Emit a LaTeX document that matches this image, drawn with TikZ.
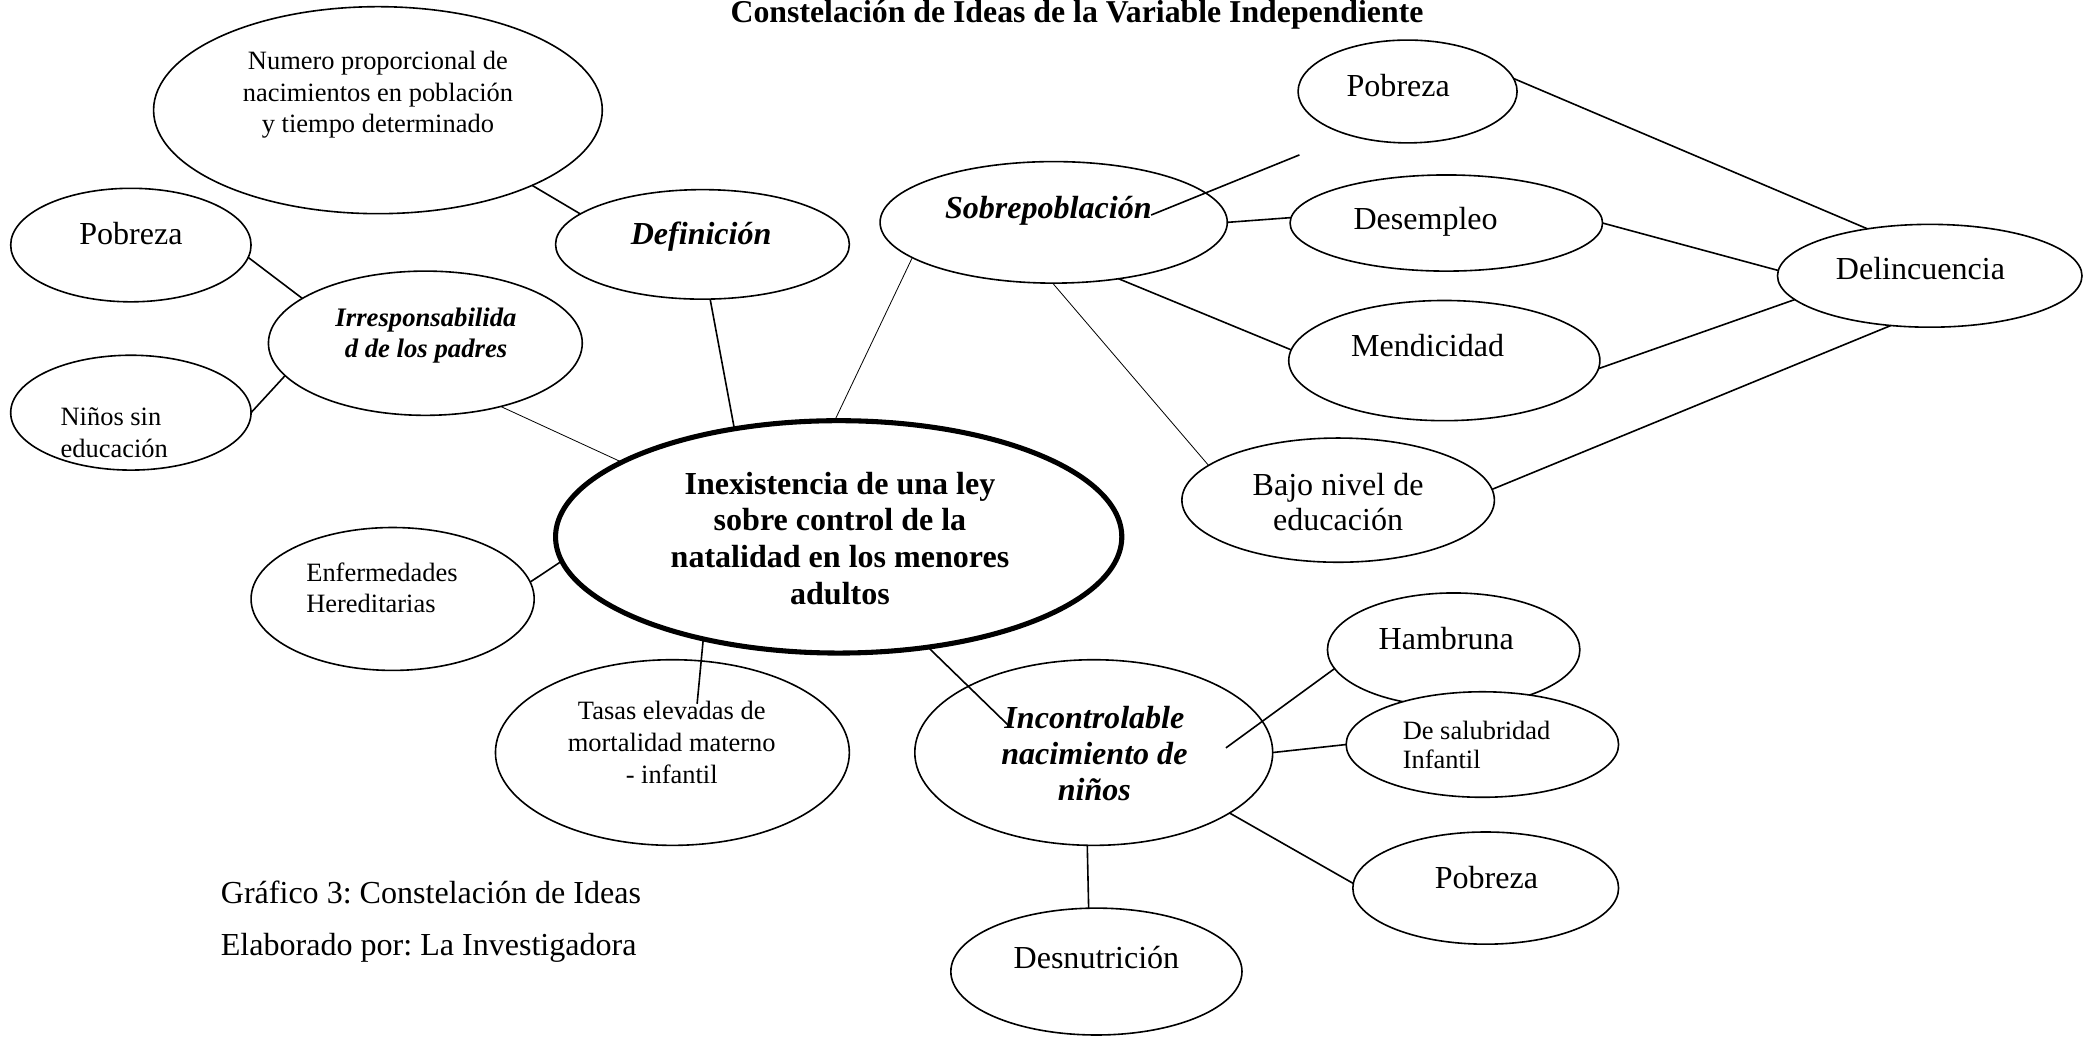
\documentclass[tikz,border=0pt]{standalone}
\usepackage{fontspec}
\setmainfont{Liberation Serif}
\usetikzlibrary{shapes.geometric}
\frenchspacing
\begin{document}
\begin{tikzpicture}[x=0.5pt,y=-0.5pt,
  ell/.style={ellipse, draw, fill=white, line width=0.6pt, inner sep=0pt, outer sep=0pt},
  bigtxt/.style={font=\fontsize{12}{13.6}\selectfont, inner sep=0pt, align=center},
  smltxt/.style={font=\fontsize{9.9}{11.7}\selectfont, inner sep=0pt, align=center},
  link/.style={line width=0.6pt},
  faint/.style={line width=0.3pt}]
\useasboundingbox (0,0) rectangle (1568,777);
% title
\node[font=\bfseries\fontsize{11.9}{14}\selectfont, anchor=base, inner sep=0pt] (title) at (806.5,17) {Constelación de Ideas de la Variable Independiente};
% ellipses
\node[ell, minimum width=168pt, minimum height=77.5pt] (num) at (283,82.5) {};
\node[ell, minimum width=90pt, minimum height=42.5pt] (pobL) at (98,183.5) {};
\node[ell, minimum width=110pt, minimum height=41pt] (def) at (526,183) {};
\node[ell, minimum width=117.5pt, minimum height=54pt] (irr) at (318.5,257) {};
\node[ell, minimum width=90pt, minimum height=43pt] (nin) at (98,309) {};
\node[ell, minimum width=106pt, minimum height=53.5pt] (enf) at (294,448.5) {};
\node[ell, line width=1.9pt, minimum width=212pt, minimum height=87pt] (cen) at (628,402) {};
\node[ell, minimum width=132.5pt, minimum height=69.5pt] (tas) at (503.5,563.5) {};
\node[ell, minimum width=134pt, minimum height=69.5pt] (inc) at (819,563.5) {};
\node[ell, minimum width=94.5pt, minimum height=42.5pt] (ham) at (1088.5,486.5) {};
\node[ell, minimum width=102pt, minimum height=39.5pt] (sal) at (1110,557.5) {};
\node[ell, minimum width=99.5pt, minimum height=42pt] (pobB) at (1112.5,665) {};
\node[ell, minimum width=109pt, minimum height=47.5pt] (des) at (821,727.5) {};
\node[ell, minimum width=117pt, minimum height=46.5pt] (bajo) at (1002,374.5) {};
\node[ell, minimum width=130pt, minimum height=45.5pt] (sob) at (789,166.5) {};
\node[ell, minimum width=82pt, minimum height=38.5pt] (pobT) at (1054,68.5) {};
\node[ell, minimum width=117pt, minimum height=36pt] (dsm) at (1083,167) {};
\node[ell, minimum width=116.5pt, minimum height=45pt] (men) at (1081.5,270) {};
\node[ell, minimum width=114pt, minimum height=38.5pt] (del) at (1445,206.5) {};
% texts
\node[smltxt] (tnum) at (283,71) {Numero proporcional de\\nacimientos en población\\y tiempo determinado};
\node[bigtxt] (tpobL) at (98,175) {Pobreza};
\node[bigtxt, font=\bfseries\itshape\fontsize{12}{13.6}\selectfont] (tdef) at (525,177) {Definición};
\node[smltxt, font=\bfseries\itshape\fontsize{10}{11.5}\selectfont] (tirr) at (319,251.4) {Irresponsabilida\\d de los padres};
\node[smltxt, align=left, anchor=west, font=\fontsize{9.9}{12}\selectfont] (tnin) at (45,323.7) {Niños sin\\educación};
\node[smltxt, align=left, anchor=west, font=\fontsize{9.9}{11.5}\selectfont] (tenf) at (229,440.3) {Enfermedades\\Hereditarias};
\node[bigtxt, font=\bfseries\fontsize{12}{13.7}\selectfont] (tcen) at (629,403) {Inexistencia de una ley\\sobre control de la\\natalidad en los menores\\adultos};
\node[smltxt, font=\fontsize{9.9}{12}\selectfont] (ttas) at (503,556) {Tasas elevadas de\\mortalidad materno\\- infantil};
\node[bigtxt, font=\bfseries\itshape\fontsize{12}{13.5}\selectfont] (tinc) at (819.5,564) {Incontrolable\\nacimiento de\\niños};
\node[bigtxt] (tham) at (1083,478) {Hambruna};
\node[smltxt, align=left, anchor=west, font=\fontsize{9.9}{11}\selectfont] (tsal) at (1050,557.75) {De salubridad\\Infantil};
\node[bigtxt] (tpobB) at (1113,657) {Pobreza};
\node[bigtxt] (tdes) at (821,717) {Desnutrición};
\node[bigtxt, font=\fontsize{12}{13.25}\selectfont] (tbajo) at (1002,376) {Bajo nivel de\\educación};
\node[bigtxt, font=\bfseries\itshape\fontsize{12}{13.6}\selectfont] (tsob) at (785,158) {Sobrepoblación};
\node[bigtxt] (tpobT) at (1047,64) {Pobreza};
\node[bigtxt] (tdsm) at (1067.5,166) {Desempleo};
\node[bigtxt] (tmen) at (1069,259) {Mendicidad};
\node[bigtxt] (tdel) at (1438,201) {Delincuencia};
\node[bigtxt, anchor=west] (cap1) at (165,668) {Gráfico 3: Constelación de Ideas};
\node[bigtxt, anchor=west] (cap2) at (165,709.4) {Elaborado por: La Investigadora};
% free ends
\coordinate (s1) at (862,161);
\coordinate (s2) at (973,116);
\coordinate (t1) at (522,527);
\coordinate (i1) at (756,544);
\coordinate (h1) at (918,560);
% connectors
\draw[link] (num.-26.6) -- (def.166.9);
\draw[link] (pobL.-6) -- (irr.160.2);
\draw[link] (nin.0) -- (irr.193.6);
\draw[faint] (irr.-40) -- (cen.161.3);
\draw[link] (def.-82) -- (cen.134.8);
\draw[faint] (sob.194.7) -- (cen.92.9);
\draw[link] (s1) -- (s2);
\draw[link] (sob.0) -- (dsm.178);
\draw[link] (sob.-41.7) -- (men.176);
\draw[faint] (sob.-91.3) -- (bajo.165.2);
\draw[link] (pobT.7.4) -- (del.143.5);
\draw[link] (dsm.0) -- (del.178.7);
\draw[link] (men.-3.4) -- (del.190.3);
\draw[link] (bajo.4.2) -- (del.232.1);
\draw[link] (enf.7.3) -- (cen.185);
\draw[link] (cen.217.2) -- (t1);
\draw[link] (cen.-51.2) -- (i1);
\draw[link] (h1) -- (ham.189.3);
\draw[link] (inc.0) -- (sal.180);
\draw[link] (inc.-24.9) -- (pobB.178.3);
\draw[link] (inc.266.7) -- (des.97.2);
\end{tikzpicture}
\end{document}
